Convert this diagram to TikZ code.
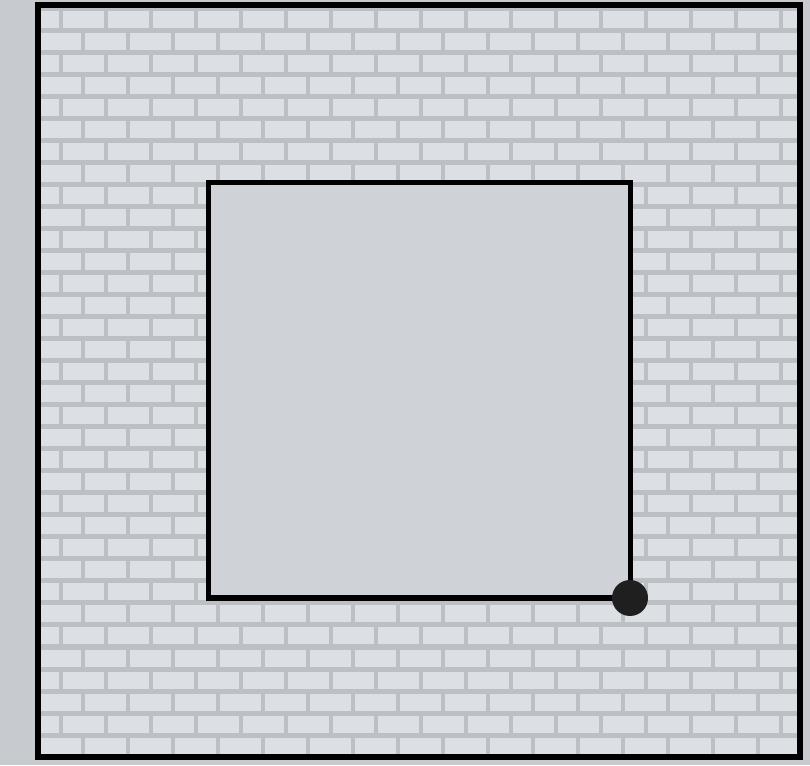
\documentclass[tikz,border=0pt]{standalone}
\usepackage{tikz}

\definecolor{paper}{RGB}{199,203,207}
\definecolor{mortar}{RGB}{188,192,197}
\definecolor{brickgray}{RGB}{220,223,227}
\definecolor{roomgray}{RGB}{207,211,215}

\tikzset{
  wall/.style={line width=0.12cm, draw=black},
  room/.style={line width=0.1cm, draw=black, fill=roomgray},
  brick/.style={fill=brickgray},
  corner/.style={fill=black!88},
}

\begin{document}
\begin{tikzpicture}

\useasboundingbox (0,0) rectangle (16.2,15.3);
\fill[paper] (0,0) rectangle (16.2,15.3);

\coordinate (outerSW) at (0.76,0.16);
\coordinate (outerNE) at (16.0,15.2);
\coordinate (innerSW) at (4.16,3.34);
\coordinate (innerNE) at (12.6,11.64);
\coordinate (innerSE) at (12.6,3.34);

% brick ring between the two squares
\begin{scope}[even odd rule]
\clip (outerSW) rectangle (outerNE) (innerSW) rectangle (innerNE);
\fill[mortar] (outerSW) rectangle (outerNE);
\foreach \r in {0,...,34} {
  \pgfmathsetmacro\shift{mod(\r,2)*0.45}
  \foreach \c in {-1,...,18} {
    \fill[brick] ({0.8+\c*0.9-\shift},{0.21+\r*0.44}) rectangle +(0.82,0.34);
  }
}
\end{scope}

\draw[room] (innerSW) rectangle (innerNE);
\draw[wall] (outerSW) rectangle (outerNE);
\fill[corner] (innerSE) circle (0.36);

\end{tikzpicture}
\end{document}
